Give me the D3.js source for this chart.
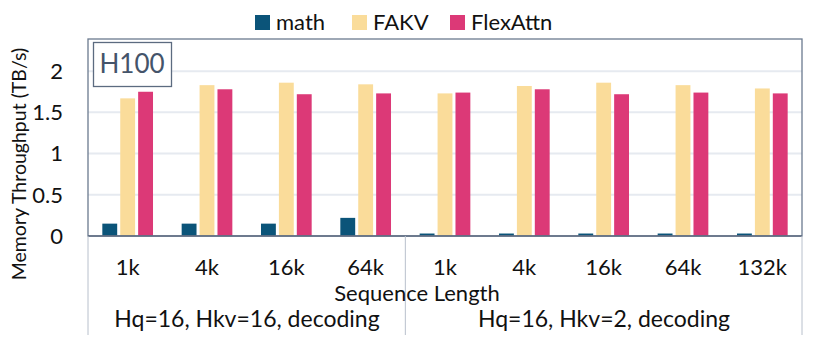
<html>
<body style="margin:0">
<svg id="graph" width="814" height="348"></svg>
</body>
<script src="https://d3js.org/d3.v7.min.js"></script>
<script>
var categories = ['1k','4k','16k','64k','1k','4k','16k','64k','132k'];
var groupLabels = ['Hq=16, Hkv=16, decoding','Hq=16, Hkv=2, decoding'];
var seriesNames = ['math','FAKV','FlexAttn'];
var mathVals = [0.15,0.15,0.15,0.22,0.03,0.03,0.03,0.03,0.03];
var fakvVals = [1.67,1.83,1.86,1.84,1.73,1.82,1.86,1.83,1.79];
var flexVals = [1.75,1.78,1.72,1.73,1.74,1.78,1.72,1.74,1.73];
var yTicks = [0,0.5,1,1.5,2];
var colors = ['#0b5479','#fadc9a','#dc3977'];

var svg = d3.select('#graph');
var font = 'Lato, "Open Sans", sans-serif';
var pLeft = 88, pRight = 802, pTop = 39, pBottom = 236;

var x = d3.scaleBand().domain(d3.range(categories.length)).range([pLeft,pRight]);
var xs = d3.scaleBand().domain(seriesNames).range([0,x.bandwidth()]).paddingInner(0.17).paddingOuter(0.8);
var y = d3.scaleLinear().domain([0,2.39]).range([pBottom,pTop]);

// grid
svg.append('g').selectAll('line').data(yTicks.slice(1)).enter().append('line')
	.attr('x1',pLeft).attr('x2',pRight)
	.attr('y1',function(d){return y(d);}).attr('y2',function(d){return y(d);})
	.attr('stroke','#e6eaf0').attr('stroke-width',2);

// bars
var table = categories.map(function(c,i){return [mathVals[i],fakvVals[i],flexVals[i]];});
var g = svg.append('g').selectAll('g').data(table).enter().append('g')
	.attr('transform',function(d,i){return 'translate('+x(i)+',0)';});
g.selectAll('rect').data(function(d){return d.map(function(v,j){return {v:v,s:seriesNames[j],j:j};});})
	.enter().append('rect')
	.attr('x',function(d){return xs(d.s);})
	.attr('width',xs.bandwidth())
	.attr('y',function(d){return y(d.v);})
	.attr('height',function(d){return pBottom-y(d.v);})
	.attr('fill',function(d){return colors[d.j];});

// frame
svg.append('rect').attr('x',pLeft).attr('y',pTop).attr('width',pRight-pLeft).attr('height',pBottom-pTop)
	.attr('fill','none').attr('stroke','#6b7a8f').attr('stroke-width',1.3);
svg.append('line').attr('x1',pLeft).attr('x2',pRight).attr('y1',pBottom).attr('y2',pBottom)
	.attr('stroke','#5c6b80').attr('stroke-width',1.5);
// separators below axis
[pLeft, x(4), pRight].forEach(function(px){
	svg.append('line').attr('x1',px).attr('x2',px).attr('y1',pBottom).attr('y2',335)
		.attr('stroke','#b8c0cc').attr('stroke-width',1);
});

// y ticks
svg.append('g').selectAll('text').data(yTicks).enter().append('text')
	.attr('x',63).attr('y',function(d){return y(d);}).attr('dy','0.36em')
	.attr('text-anchor','end').style('font-family',font).style('font-size','22px').style('fill','#111')
	.text(function(d){return d;});
svg.append('text').attr('transform','translate(26,164) rotate(-90)')
	.attr('text-anchor','middle').style('font-family',font).style('font-size','19.5px').style('fill','#111')
	.text('Memory Throughput (TB/s)');

// x ticks
svg.append('g').selectAll('text').data(categories).enter().append('text')
	.attr('x',function(d,i){return x(i)+x.bandwidth()/2;}).attr('y',275)
	.attr('text-anchor','middle').style('font-family',font).style('font-size','22px').style('fill','#111')
	.text(function(d){return d;});
svg.append('text').attr('x',417).attr('y',301).attr('text-anchor','middle')
	.style('font-family',font).style('font-size','22px').style('fill','#111').text('Sequence Length');
svg.append('g').selectAll('text').data(groupLabels).enter().append('text')
	.attr('x',function(d,i){return i==0 ? 247 : 604;}).attr('y',327)
	.attr('text-anchor','middle').style('font-family',font).style('font-size','23px').style('fill','#111')
	.text(function(d){return d;});

// H100 label
svg.append('rect').attr('x',93.5).attr('y',42.5).attr('width',78).attr('height',44)
	.attr('fill','#fff').attr('stroke','#5c6b80').attr('stroke-width',1.3);
svg.append('text').attr('x',132).attr('y',73).attr('text-anchor','middle')
	.style('font-family',font).style('font-size','26px').style('fill','#44546a').text('H100');

// legend
var legX = [255,352,450];
var leg = svg.append('g').selectAll('g').data(seriesNames).enter().append('g')
	.attr('transform',function(d,i){return 'translate('+legX[i]+',0)';});
leg.append('rect').attr('x',0).attr('y',15).attr('width',15).attr('height',15)
	.attr('fill',function(d,i){return colors[i];});
leg.append('text').attr('x',21).attr('y',30).style('font-family',font).style('font-size','22px')
	.style('fill','#111').text(function(d){return d;});
</script>
</html>
